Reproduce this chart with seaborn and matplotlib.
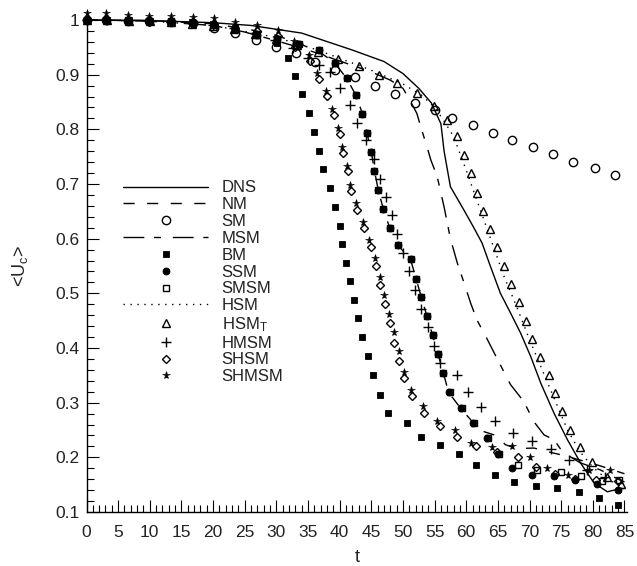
import matplotlib
matplotlib.use("Agg")
import matplotlib.pyplot as plt
from matplotlib.ticker import MultipleLocator
import seaborn as sns

# ---- centreline velocity <U_c> versus time t ----
dns_t = [0, 10, 20, 26, 34, 42, 47, 50, 52.5, 54.5, 56, 56.5, 57.5, 59.6, 61.2, 62.5, 63.8,
         65.4, 67, 68.6, 70.2, 71.8, 73.9, 76, 78.1, 80.2, 82.3, 84.4, 85]
dns_u = [1.0, 0.999, 0.995, 0.99, 0.976, 0.945, 0.924, 0.902, 0.875, 0.848, 0.81, 0.76, 0.695,
         0.653, 0.62, 0.592, 0.55, 0.50, 0.464, 0.427, 0.384, 0.335, 0.28, 0.232, 0.189,
         0.153, 0.137, 0.143, 0.143]

nm_t = [0, 10, 20, 26, 30, 34, 37, 39.2, 41.1, 42.6, 43.6, 44.3, 45.0, 45.5, 46.1, 46.9, 47.9,
        49.2, 51.2, 52.9, 54.7, 56.4, 57.2, 59.1, 61.2, 62.8, 64.4, 65.4, 66.2, 68.0, 70.7,
        73.0, 75.2, 78.0, 81.0, 85.0]
nm_u = [1.0, 0.999, 0.993, 0.982, 0.972, 0.955, 0.94, 0.922, 0.893, 0.862, 0.828, 0.794, 0.759,
        0.724, 0.689, 0.654, 0.620, 0.588, 0.562, 0.493, 0.423, 0.354, 0.319, 0.29, 0.262,
        0.247, 0.241, 0.232, 0.223, 0.216, 0.217, 0.21, 0.204, 0.195, 0.185, 0.17]

sm_t = [0, 3.1, 6.5, 9.9, 13.3, 16.8, 20.2, 23.4, 26.8, 29.9, 33.1, 36.1, 39.2, 42.4, 45.6,
        48.7, 51.9, 55.0, 57.7, 61.1, 64.2, 67.3, 70.6, 73.7, 76.9, 80.4, 83.5]
sm_u = [1.0, 1.0, 0.999, 0.998, 0.997, 0.994, 0.985, 0.976, 0.964, 0.951, 0.939, 0.924, 0.909,
        0.895, 0.879, 0.865, 0.849, 0.835, 0.820, 0.808, 0.794, 0.781, 0.767, 0.754, 0.741,
        0.729, 0.716]

msm_t = [0, 10, 20, 25, 30, 35, 40, 45, 48, 50, 51.2, 52.2, 52.8, 53.8, 54.4, 55.4, 56.5, 57.5,
         58.6, 59.6, 60.7, 61.7, 63.1, 64.9, 67.0, 69.1, 70.7, 72.3, 73.9, 75.2, 78, 81.2, 84, 85]
msm_u = [1.0, 0.998, 0.99, 0.978, 0.962, 0.945, 0.925, 0.905, 0.89, 0.875, 0.851, 0.829, 0.805,
         0.768, 0.744, 0.714, 0.658, 0.60, 0.555, 0.521, 0.482, 0.451, 0.421, 0.38, 0.333,
         0.302, 0.265, 0.241, 0.232, 0.21, 0.19, 0.177, 0.16, 0.155]

bm_t = [0, 3.3, 6.7, 10, 13.3, 16.7, 20, 23.4, 26.8, 30.1, 31.9, 33.0, 34.1, 35.2, 36.0, 36.8,
        37.4, 38.4, 39.3, 40.0, 40.4, 41.0, 41.6, 42.2, 42.9, 43.6, 44.4, 45.3, 46.4, 47.6,
        50.6, 52.8, 55.8, 58.8, 61.6, 64.5, 67.6, 71.0, 74.4, 77.8, 81.0, 84.0]
bm_u = [1.0, 1.0, 1.0, 0.999, 0.998, 0.996, 0.992, 0.986, 0.975, 0.957, 0.930, 0.898, 0.864,
        0.830, 0.796, 0.761, 0.727, 0.693, 0.658, 0.624, 0.590, 0.556, 0.522, 0.488, 0.454,
        0.420, 0.386, 0.350, 0.314, 0.281, 0.263, 0.238, 0.223, 0.207, 0.186, 0.168, 0.154,
        0.148, 0.143, 0.137, 0.125, 0.113]

ssm_t = [0, 3.1, 6.5, 9.9, 13.3, 16.8, 20.2, 23.5, 26.9, 30.1, 33.5, 36.7, 39.2, 41.1, 42.6,
         43.6, 44.3, 45.0, 45.5, 46.1, 46.9, 47.9, 49.2, 51.2, 52.1, 52.9, 53.8, 54.7, 55.5,
         56.4, 57.2, 59.1, 61.1, 63.3, 65.0, 67.3, 70.4, 73.8, 77.2, 80.6, 83.9]
ssm_u = [1.0, 1.0, 1.0, 0.999, 0.998, 0.995, 0.991, 0.983, 0.972, 0.966, 0.956, 0.945, 0.922,
         0.893, 0.862, 0.828, 0.794, 0.759, 0.724, 0.689, 0.654, 0.620, 0.588, 0.562, 0.527,
         0.493, 0.458, 0.423, 0.389, 0.354, 0.319, 0.291, 0.262, 0.235, 0.207, 0.180, 0.168,
         0.165, 0.158, 0.151, 0.141]

smsm_t = [0, 3.1, 6.5, 9.9, 13.3, 16.8, 20.2, 23.5, 26.9, 30.1, 33.5, 36.7, 39.2, 41.1, 42.6,
          43.6, 44.3, 45.0, 45.5, 46.1, 46.9, 47.9, 49.2, 51.2, 52.1, 52.9, 53.8, 54.7, 55.5,
          56.4, 57.4, 59.3, 61.3, 63.5, 65.2, 68.1, 71.2, 74.9, 78.1, 81.5, 84.1]
smsm_u = [1.0, 1.0, 1.0, 0.999, 0.998, 0.995, 0.991, 0.983, 0.972, 0.966, 0.956, 0.945, 0.922,
          0.893, 0.862, 0.828, 0.794, 0.759, 0.724, 0.689, 0.654, 0.620, 0.588, 0.562, 0.527,
          0.493, 0.458, 0.423, 0.389, 0.354, 0.32, 0.291, 0.262, 0.236, 0.207, 0.186, 0.177,
          0.174, 0.165, 0.156, 0.159]

hsm_t = [0, 10, 20, 30, 36, 40, 45, 50, 53, 55, 56.5, 58, 60, 62, 64, 66, 68, 70, 72, 74, 76,
         78, 80, 82, 84, 85]
hsm_u = [1.0, 0.998, 0.99, 0.968, 0.947, 0.93, 0.908, 0.883, 0.862, 0.84, 0.815, 0.787, 0.725,
         0.66, 0.595, 0.53, 0.475, 0.415, 0.36, 0.305, 0.25, 0.21, 0.182, 0.162, 0.15, 0.145]

hsmt_t = [0, 3.3, 6.7, 10, 13.3, 16.7, 20, 23.3, 26.6, 29.9, 33.2, 36.5, 39.8, 43.0, 46.2, 49.1,
          52.2, 54.9, 57.0, 58.5, 59.7, 60.8, 61.7, 62.7, 63.7, 64.8, 65.9, 67.1, 68.3, 69.4,
          70.4, 71.6, 73.0, 74.1, 75.2, 76.4, 78.0, 79.8, 82.2, 84.4]
hsmt_u = [1.0, 1.0, 0.999, 0.998, 0.996, 0.993, 0.989, 0.983, 0.975, 0.966, 0.955, 0.942, 0.928,
          0.915, 0.899, 0.884, 0.866, 0.843, 0.817, 0.787, 0.753, 0.720, 0.684, 0.651, 0.617,
          0.584, 0.550, 0.517, 0.484, 0.450, 0.417, 0.384, 0.351, 0.317, 0.284, 0.250, 0.218,
          0.191, 0.164, 0.151]

hmsm_t = [0, 3.3, 6.7, 10, 13.3, 16.7, 20, 23.3, 26.6, 29.8, 32.7, 35.0, 36.8, 38.4, 40.1, 41.7,
          42.8, 44.1, 45.4, 46.3, 47.4, 48.3, 49.1, 50.0, 50.9, 51.9, 52.9, 53.9, 54.9, 55.9,
          58.5, 60.3, 62.3, 64.6, 67.4, 70.4, 73.4, 76.2, 79.1, 82.0]
hmsm_u = [1.0, 1.0, 1.0, 0.999, 0.998, 0.995, 0.991, 0.985, 0.976, 0.963, 0.948, 0.93, 0.918,
          0.905, 0.875, 0.845, 0.812, 0.781, 0.745, 0.710, 0.677, 0.643, 0.609, 0.574, 0.54,
          0.506, 0.472, 0.438, 0.404, 0.372, 0.351, 0.320, 0.292, 0.267, 0.245, 0.230, 0.215,
          0.196, 0.177, 0.164]

shsm_t = [0, 3.1, 6.5, 9.9, 13.3, 16.8, 20.2, 23.5, 26.9, 30.2, 32.9, 35.3, 36.7, 38.0, 39.1,
          40.0, 40.6, 41.3, 41.8, 42.8, 43.9, 45.0, 45.7, 46.4, 47.1, 47.9, 48.6, 49.4, 50.2,
          51.5, 53.4, 55.8, 58.6, 61.6, 64.8, 68.1, 71.0, 74.0, 77.2, 80.5, 84.0]
shsm_u = [1.0, 1.0, 0.998, 0.997, 0.996, 0.994, 0.992, 0.986, 0.98, 0.97, 0.95, 0.925, 0.892,
          0.861, 0.827, 0.791, 0.756, 0.723, 0.688, 0.652, 0.619, 0.585, 0.55, 0.515, 0.48,
          0.445, 0.41, 0.377, 0.345, 0.312, 0.282, 0.258, 0.238, 0.221, 0.21, 0.2, 0.182, 0.17,
          0.16, 0.158, 0.157]

shmsm_t = [0, 3.1, 6.5, 9.9, 13.3, 16.8, 20.2, 23.5, 26.9, 30.2, 32.8, 35.1, 36.4, 37.8, 38.85,
           39.8, 40.4, 41.1, 41.7, 42.6, 43.7, 44.7, 45.6, 46.3, 47.0, 47.8, 48.6, 49.4, 50.1,
           51.3, 53.2, 55.4, 58.3, 60.8, 64.0, 67.3, 70.1, 72.8, 76.1, 79.4, 82.7]
shmsm_u = [1.012, 1.012, 1.009, 1.007, 1.007, 1.005, 1.003, 0.997, 0.991, 0.981, 0.962, 0.936,
           0.903, 0.87, 0.837, 0.802, 0.767, 0.733, 0.698, 0.665, 0.631, 0.598, 0.564, 0.53,
           0.497, 0.463, 0.43, 0.395, 0.357, 0.324, 0.294, 0.267, 0.25, 0.227, 0.218, 0.221,
           0.2, 0.18, 0.168, 0.177, 0.177]

x_ticks = list(range(0, 90, 5))
y_ticks = [0.1, 0.2, 0.3, 0.4, 0.5, 0.6, 0.7, 0.8, 0.9, 1.0]
y_tick_labels = ["0.1", "0.2", "0.3", "0.4", "0.5", "0.6", "0.7", "0.8", "0.9", "1"]

sns.set_theme(style="white")
plt.rcParams["font.family"] = ["Liberation Sans", "DejaVu Sans"]
plt.rcParams["mathtext.fontset"] = "custom"
plt.rcParams["mathtext.rm"] = "Liberation Sans"
plt.rcParams["mathtext.it"] = "Liberation Sans"

fig = plt.figure(figsize=(6.37, 5.66), dpi=100)
ax = fig.add_axes([0.1358, 0.0954, 0.9843 - 0.1358, 0.9647 - 0.0954])

line_kw = dict(ax=ax, color="black", estimator=None, sort=False, clip_on=False)
mark_kw = dict(ax=ax, color="black", estimator=None, sort=False, clip_on=False,
               linestyle="none", markeredgecolor="black")

sns.lineplot(x=dns_t, y=dns_u, lw=1.0, linestyle="-", label="DNS", **line_kw)
sns.lineplot(x=nm_t, y=nm_u, lw=1.0, dashes=False, linestyle=(0, (8, 9)), label="NM", **line_kw)
sns.lineplot(x=sm_t, y=sm_u, marker="o", ms=6, mfc="none", mew=1.0, label="SM", **mark_kw)
sns.lineplot(x=msm_t, y=msm_u, lw=1.0, dashes=False, linestyle=(0, (15, 7, 5, 8.5)),
             label="MSM", **line_kw)
sns.lineplot(x=bm_t, y=bm_u, marker="s", ms=4.2, mfc="black", mew=0.6, label="BM", **mark_kw)
sns.lineplot(x=ssm_t, y=ssm_u, marker="o", ms=5, mfc="black", mew=0.6, label="SSM", **mark_kw)
sns.lineplot(x=smsm_t, y=smsm_u, marker="s", ms=4.5, mfc="none", mew=1.0, label="SMSM", **mark_kw)
sns.lineplot(x=hsm_t, y=hsm_u, lw=1.0, dashes=False, linestyle=(0, (1, 4)), label="HSM", **line_kw)
sns.lineplot(x=hsmt_t, y=hsmt_u, marker="^", ms=5.5, mfc="none", mew=1.0,
             label="HSM$_\\mathregular{T}$", **mark_kw)
sns.lineplot(x=hmsm_t, y=hmsm_u, marker="+", ms=7, mew=1.0, label="HMSM", **mark_kw)
sns.lineplot(x=shsm_t, y=shsm_u, marker="D", ms=4.5, mfc="none", mew=1.0, label="SHSM", **mark_kw)
sns.lineplot(x=shmsm_t, y=shmsm_u, marker="*", ms=5.8, mfc="black", mew=0.4, label="SHMSM",
             **mark_kw)

ax.set_xlim(0, 85.4)
ax.set_ylim(0.1, 1.0)
ax.set_xticks(x_ticks)
ax.set_xticklabels([str(v) for v in x_ticks])
ax.set_yticks(y_ticks)
ax.set_yticklabels(y_tick_labels)
ax.xaxis.set_minor_locator(MultipleLocator(1))
ax.yaxis.set_minor_locator(MultipleLocator(0.02))

for side in ("top", "right"):
    ax.spines[side].set_visible(False)
for side in ("left", "bottom"):
    ax.spines[side].set_color("black")
    ax.spines[side].set_linewidth(1.0)

ax.tick_params(which="both", direction="in", color="black", width=0.8,
               bottom=True, left=True, top=False, right=False)
ax.tick_params(which="major", length=8.5, labelsize=12.5, labelcolor="#222222")
ax.tick_params(which="minor", length=5)
ax.tick_params(axis="x", which="major", pad=9)
ax.tick_params(axis="y", which="major", pad=5)

ax.set_xlabel("t", fontsize=13, labelpad=7, color="#222222")
ax.set_ylabel("<U$_\\mathregular{c}$>", fontsize=13, labelpad=18, color="#222222")
ax.grid(False)

handles, labels = ax.get_legend_handles_labels()
ax.legend(handles, labels, loc="upper left", bbox_to_anchor=(0.068, 0.674), frameon=False,
          fontsize=12, handlelength=5.1, handletextpad=0.8, labelspacing=0.11,
          borderpad=0, borderaxespad=0, numpoints=1, labelcolor="#222222")

fig.savefig("out.png", dpi=100, facecolor="white")
